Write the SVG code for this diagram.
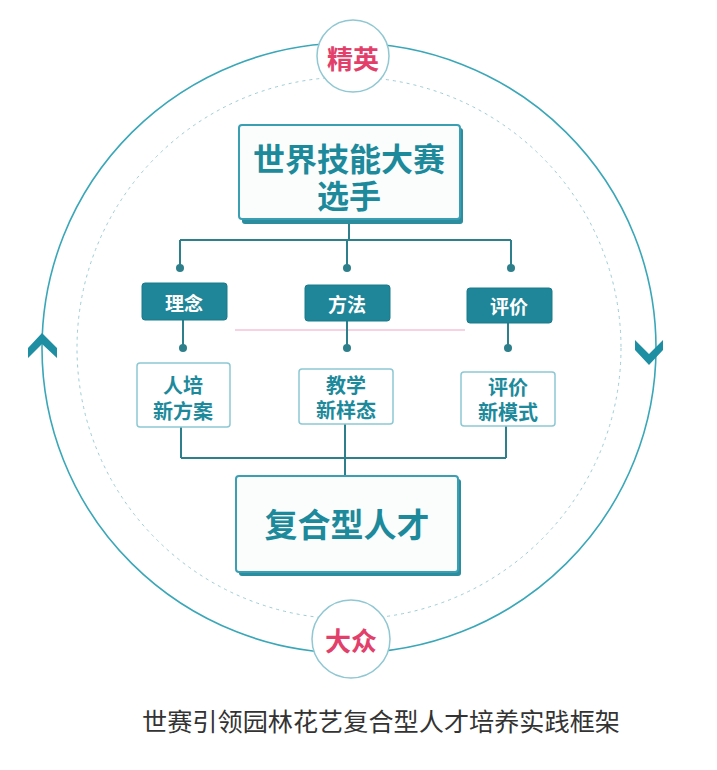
<svg xmlns="http://www.w3.org/2000/svg" width="717" height="770" viewBox="0 0 717 770">
<defs>
<style>
.t{font-family:"Noto Sans CJK SC","Noto Sans",sans-serif;font-weight:700;text-anchor:middle;dominant-baseline:central}
.teal{fill:#1d8a9c}
.wt{fill:#ffffff}
.pk{fill:#e2406a}
.ln{stroke:#2d7f8c;stroke-width:2;fill:none}
.dot{fill:#2d7f8c}
.fbox{fill:#1e8698;stroke:#1a7a8b;stroke-width:1}
.obox{fill:#ffffff;stroke:#8cc8d4;stroke-width:1.5}
.bigbox{fill:#fbfdfd;stroke:#3a9fb2;stroke-width:2}
.shadow{fill:#2b8d9e}
.chev{fill:#1e8fa3}
</style>
</defs>
<rect width="717" height="770" fill="#ffffff"/>
<g id="rings">
<ellipse cx="349" cy="348" rx="307" ry="305" fill="none" stroke="#3aa7b8" stroke-width="1.6"/>
<ellipse cx="349" cy="348" rx="272" ry="271" fill="none" stroke="#9dccd6" stroke-width="1" stroke-dasharray="3 4"/>
<line x1="235" y1="330" x2="465" y2="330" stroke="#f2a6c6" stroke-width="1.2"/>
</g>
<g id="connectors">
<path class="ln" d="M349 221 V240 M180 240 H511 M180 240 V268 M347 240 V268 M511 240 V268"/>
<circle class="dot" cx="180" cy="268" r="4"/>
<circle class="dot" cx="347" cy="268" r="4"/>
<circle class="dot" cx="511" cy="268" r="4"/>
<path class="ln" d="M183 320 V348 M347 320 V348 M508 323 V348"/>
<circle class="dot" cx="183" cy="348" r="4"/>
<circle class="dot" cx="347" cy="348" r="4"/>
<circle class="dot" cx="508" cy="348" r="4"/>
<path class="ln" d="M181 427 V458 M345 424 V476 M506 426 V458 M181 458 H506"/>
</g>
<g id="arrow-left"><path class="chev" d="M42 333 L57 348 L57 358 L42 344 L28 358 L28 348 Z"/></g>
<g id="arrow-right"><path class="chev" d="M649 365 L663 350 L663 340 L649 354 L635 340 L635 350 Z"/></g>
<g id="node-jingying">
<circle cx="353" cy="56" r="36" fill="#ffffff" stroke="#8fc7d2" stroke-width="1.5"/>
<text class="t pk" x="353" y="57" font-size="26">精英</text>
</g>
<g id="node-dazhong">
<circle cx="351" cy="639" r="39" fill="#ffffff" stroke="#8fc7d2" stroke-width="1.5"/>
<text class="t pk" x="351" y="639" font-size="26">大众</text>
</g>
<g id="node-top">
<rect class="shadow" x="242" y="128" width="221" height="96" rx="3"/>
<rect class="bigbox" x="239" y="125" width="221" height="94" rx="3"/>
<text class="t teal" x="349" y="157" font-size="32">世界技能大赛</text>
<text class="t teal" x="349" y="194" font-size="32">选手</text>
</g>
<g id="node-linian">
<rect class="fbox" x="142" y="283" width="85" height="37" rx="3"/>
<text class="t wt" x="184" y="302" font-size="19">理念</text>
</g>
<g id="node-fangfa">
<rect class="fbox" x="305" y="285" width="85" height="36" rx="3"/>
<text class="t wt" x="347" y="303" font-size="19">方法</text>
</g>
<g id="node-pingjia">
<rect class="fbox" x="467" y="288" width="85" height="35" rx="3"/>
<text class="t wt" x="509" y="305" font-size="19">评价</text>
</g>
<g id="node-renpei">
<rect class="obox" x="137" y="363" width="93" height="64" rx="3"/>
<text class="t teal" x="183" y="384" font-size="20">人培</text>
<text class="t teal" x="183" y="410" font-size="20">新方案</text>
</g>
<g id="node-jiaoxue">
<rect class="obox" x="299" y="369" width="94" height="55" rx="3"/>
<text class="t teal" x="346" y="384" font-size="20">教学</text>
<text class="t teal" x="346" y="409" font-size="20">新样态</text>
</g>
<g id="node-pingjiamoshi">
<rect class="obox" x="461" y="372" width="94" height="54" rx="3"/>
<text class="t teal" x="508" y="386" font-size="20">评价</text>
<text class="t teal" x="508" y="411" font-size="20">新模式</text>
</g>
<g id="node-bottom">
<rect class="shadow" x="239" y="479" width="222" height="97" rx="3"/>
<rect class="bigbox" x="236" y="476" width="222" height="96" rx="3"/>
<text class="t teal" x="347" y="523" font-size="33">复合型人才</text>
</g>
<g id="caption">
<text x="381" y="720" font-family="Noto Sans CJK SC, sans-serif" font-size="25" fill="#333333" text-anchor="middle" dominant-baseline="central" textLength="478" lengthAdjust="spacingAndGlyphs">世赛引领园林花艺复合型人才培养实践框架</text>
</g>
</svg>
